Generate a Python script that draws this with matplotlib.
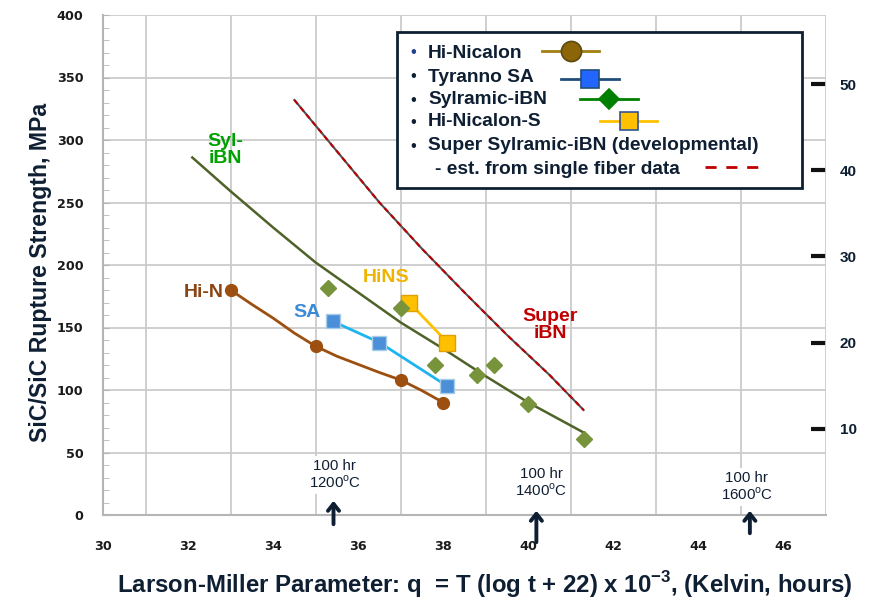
import numpy as np
import matplotlib.pyplot as plt
from matplotlib.patches import Rectangle
from matplotlib.lines import Line2D

# data (Larson-Miller parameter, MPa)
hin_x = [33.0, 35.0, 37.0, 38.0]
hin_y = [180, 135, 108, 90]
hin_curve_x = [33.0, 33.5, 34.0, 34.5, 35.0, 35.5, 36.0, 36.5, 37.0, 37.5, 38.0]
hin_curve_y = [180, 168.5, 157.5, 145.5, 135, 127, 120.5, 114, 108, 99.5, 90]

sa_x = [35.4, 36.5, 38.1]
sa_y = [155, 138, 103]

hins_x = [37.2, 38.1]
hins_y = [170, 138]

syl_x = [35.3, 37.0, 37.8, 38.8, 39.2, 40.0, 41.3]
syl_y = [182, 166, 120, 112, 120, 89, 61]
syl_fit_x = [32.1, 33, 34, 35, 36, 37, 38, 39, 40, 41.3]
syl_fit_y = [286, 259, 230, 202, 178, 154, 133, 111, 90, 66]

super_x = [34.5, 35.5, 36.5, 37.5, 38.5, 39.5, 40.5, 41.3]
super_y = [332, 291, 250, 213, 178, 144, 112, 84]

ksi_ticks = [10, 20, 30, 40, 50]

marks = [("100 hr\n1200$^{\\rm o}$C", 35.45, 32, 35.42, 13.6, -9.6),
         ("100 hr\n1400$^{\\rm o}$C", 40.3, 25.6, 40.19, 5.6, -24),
         ("100 hr\n1600$^{\\rm o}$C", 45.14, 22.4, 45.21, 5.6, -16.8)]

navy = "#0f1f33"
plt.rcParams["font.family"] = ["Liberation Sans", "DejaVu Sans"]
plt.rcParams["mathtext.fontset"] = "custom"
plt.rcParams["mathtext.rm"] = "Liberation Sans"
plt.rcParams["mathtext.bf"] = "Liberation Sans:bold"

fig = plt.figure(figsize=(8.75, 6.06), dpi=100)
ax = fig.add_axes([103 / 875, 1 - 515 / 606, 723 / 875, 500 / 606])

ax.set_xlim(30, 47)
ax.set_ylim(0, 400)
ax.set_xticks(np.arange(30, 47, 2))
ax.set_xticks(np.arange(30, 48, 1), minor=True)
ax.set_yticks(np.arange(0, 401, 50))
ax.set_yticks(np.arange(0, 401, 10), minor=True)
ax.grid(True, which="minor", axis="x", color="#cbcbcb", lw=1.3)
ax.grid(True, which="major", axis="y", color="#cbcbcb", lw=1.3)
ax.set_axisbelow(True)
for s in ["top", "right"]:
    ax.spines[s].set_visible(False)
for s in ["left", "bottom"]:
    ax.spines[s].set_color("#b5b5b5")
    ax.spines[s].set_linewidth(1.5)
ax.tick_params(axis="x", which="both", length=0, pad=18)
ax.tick_params(axis="y", which="both", direction="in", color="#b5b5b5", length=4, pad=14)
for lab in ax.get_xticklabels() + ax.get_yticklabels():
    lab.set_family("DejaVu Sans")
    lab.set_fontweight("bold")
    lab.set_fontsize(9.2)
    lab.set_color("#1a1a1a")

# curves
ax.plot(syl_fit_x, syl_fit_y, color="#4f6228", lw=1.8)
ax.plot(super_x, super_y, color="#505050", lw=1.5)
ax.plot(super_x, super_y, color="#c00000", lw=1.5, dashes=(2.5, 2))
ax.plot(hin_curve_x, hin_curve_y, color="#9c4f0f", lw=2)
ax.plot(hin_x, hin_y, "o", color="#9c4f0f", ms=8.5)
ax.plot(sa_x, sa_y, color="#1eb4f0", lw=2)
ax.plot(sa_x, sa_y, "s", mfc="#4a8fd8", mec="#a8cde8", ms=9.5, mew=1)
ax.plot(hins_x, hins_y, color="#ffc000", lw=2)
ax.plot(hins_x, hins_y, "s", mfc="#ffc000", mec="#e0a000", ms=11, mew=1)
ax.plot(syl_x, syl_y, "D", color="#77933c", ms=8)

# series labels
lab_kw = dict(fontsize=14, fontweight="bold", ha="center", va="center", linespacing=1.05)
ax.text(32.88, 292, "Syl-\niBN", color="#00a000", **lab_kw)
ax.text(32.36, 178, "Hi-N", color="#8b4513", **lab_kw)
ax.text(34.79, 162, "SA", color="#3a8ad6", **lab_kw)
ax.text(36.65, 190, "HiNS", color="#f0b400", **lab_kw)
ax.text(40.52, 152, "Super\niBN", color="#c00000", **lab_kw)

# 100 hr markers
for txt, tx, ty, axx, tip, tail in marks:
    ax.text(tx, ty, txt, fontsize=10.8, color=navy, ha="center", va="center", linespacing=1.1,
            bbox=dict(fc="white", ec="none", pad=2))
    ax.annotate("", xy=(axx, tip), xytext=(axx, tail), annotation_clip=False,
                arrowprops=dict(arrowstyle="->,head_length=0.5,head_width=0.4", color=navy, lw=2.8))

# secondary axis in ksi
sec = ax.secondary_yaxis("right", functions=(lambda m: m / 6.895, lambda k: k * 6.895))
sec.set_yticks(ksi_ticks)
sec.spines["right"].set_visible(False)
sec.tick_params(direction="in", length=11, width=3, color="#111111", pad=10)
for lab in sec.get_yticklabels():
    lab.set_fontweight("bold")
    lab.set_fontsize(11)
    lab.set_color(navy)

ax.set_ylabel("SiC/SiC Rupture Strength, MPa", fontsize=16.7, fontweight="bold", color=navy)
ax.yaxis.set_label_coords(-0.07, 0.485)
fig.text(485 / 875, 1 - 585 / 606, "Larson-Miller Parameter: q  = T (log t + 22) x 10$^{\\mathbf{-3}}$, (Kelvin, hours)",
         fontsize=17.3, fontweight="bold", color=navy, ha="center", va="center")


# legend (drawn by hand, markers are staggered)
def px(x, y):
    return ((x - 103) / 723, (515 - y) / 500)


x0, y0 = px(397, 188)
x1, y1 = px(802, 32)
ax.add_patch(Rectangle((x0, y0), x1 - x0, y1 - y0, transform=ax.transAxes, fc="white",
                       ec="#0d1f30", lw=2, zorder=5, clip_on=False))
rows = [("Hi-Nicalon", 53), ("Tyranno SA", 77), ("Sylramic-iBN", 100),
        ("Hi-Nicalon-S", 122), ("Super Sylramic-iBN (developmental)", 146)]
for i, (name, yy) in enumerate(rows):
    bx, by = px(413, yy)
    ax.text(bx, by, "\u2022", transform=ax.transAxes, fontsize=12, color="#1f3f8f" if i == 0 else navy,
            ha="center", va="center", zorder=6)
    tx, ty = px(428, yy)
    ax.text(tx, ty, name, transform=ax.transAxes, fontsize=13.8, fontweight="bold", color=navy,
            ha="left", va="center", zorder=6)
tx, ty = px(435, 170)
ax.text(tx, ty, "- est. from single fiber data", transform=ax.transAxes, fontsize=13.8, fontweight="bold",
        color=navy, ha="left", va="center", zorder=6)

samples = [(542, 599, 51, "o", "#a07f10", "#8b6508", "#5c4a10", 14.5),
           (561, 619, 79, "s", "#1f4e79", "#2266ff", "#1f4e79", 13),
           (580, 638, 99, "D", "#008000", "#008000", "#008000", 10),
           (600, 657, 121, "s", "#ffc000", "#ffc000", "#2f5597", 13)]
for xa, xb, yy, mk, lc, fc, ec, ms in samples:
    (ua, v), (ub, _) = px(xa, yy), px(xb, yy)
    ax.add_line(Line2D([ua, ub], [v, v], transform=ax.transAxes, color=lc, lw=2, zorder=6, clip_on=False))
    ax.add_line(Line2D([(ua + ub) / 2], [v], transform=ax.transAxes, marker=mk, mfc=fc, mec=ec, ms=ms,
                       mew=1.2, zorder=7, clip_on=False))
(ua, v), (ub, _) = px(705, 167), px(763, 167)
ax.add_line(Line2D([ua, ub], [v, v], transform=ax.transAxes, color="#c00000", lw=2, dashes=(4, 3.5),
                   zorder=6, clip_on=False))

fig.savefig("out.png", dpi=100)
